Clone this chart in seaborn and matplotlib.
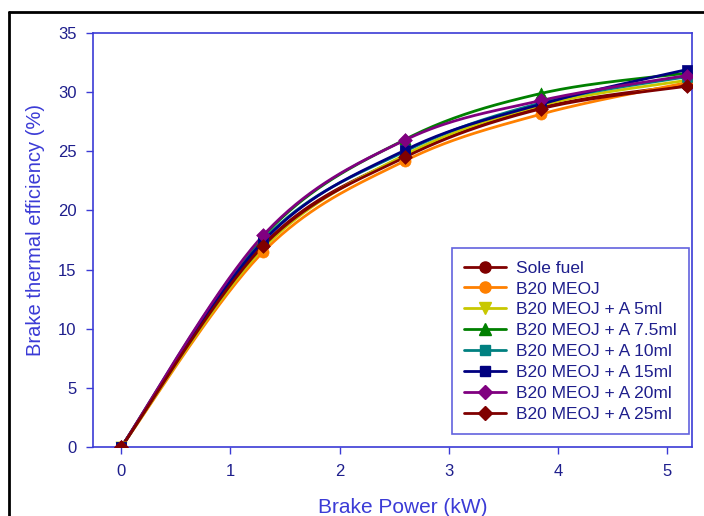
import numpy as np
import pandas as pd
import matplotlib
matplotlib.use("Agg")
import matplotlib.pyplot as plt
import seaborn as sns
from matplotlib.lines import Line2D

# Brake thermal efficiency (%) against brake power (kW)
brake_power = [0, 1.3, 2.6, 3.85, 5.18]
sole_fuel = [0, 17.1, 24.6, 28.7, 30.6]
b20_meoj = [0, 16.5, 24.2, 28.15, 30.8]
b20_a5 = [0, 16.8, 24.7, 28.9, 31.0]
b20_a7_5 = [0, 17.8, 26.0, 29.9, 31.6]
b20_a10 = [0, 17.5, 25.0, 29.1, 31.3]
b20_a15 = [0, 17.4, 25.1, 29.0, 31.9]
b20_a20 = [0, 17.9, 25.95, 29.3, 31.4]
b20_a25 = [0, 17.0, 24.5, 28.6, 30.5]

labels = ["Sole fuel", "B20 MEOJ", "B20 MEOJ + A 5ml", "B20 MEOJ + A 7.5ml",
          "B20 MEOJ + A 10ml", "B20 MEOJ + A 15ml", "B20 MEOJ + A 20ml",
          "B20 MEOJ + A 25ml"]
series = [sole_fuel, b20_meoj, b20_a5, b20_a7_5, b20_a10, b20_a15, b20_a20, b20_a25]
colors = ["#800000", "#FF8000", "#C8C800", "#008000", "#008080", "#000080",
          "#800080", "#800000"]
markers = ["o", "o", "v", "^", "s", "s", "D", "D"]
msizes = [8, 8, 8, 8, 7, 7, 7, 7]

TEXT = "#1E1E8C"
SPINE = "#3B3BD6"


def smooth_curve(xs, ys, n=40):
    """Catmull-Rom style Bezier smoothing through the given points."""
    p = np.column_stack([xs, ys]).astype(float)
    out = []
    for i in range(len(p) - 1):
        p0 = p[i - 1] if i > 0 else p[i]
        p1, p2 = p[i], p[i + 1]
        p3 = p[i + 2] if i + 2 < len(p) else p[i + 1]
        c1 = p1 + (p2 - p0) / 6.0
        c2 = p2 - (p3 - p1) / 6.0
        t = np.linspace(0, 1, n)[:, None]
        seg = ((1 - t) ** 3) * p1 + 3 * ((1 - t) ** 2) * t * c1 \
            + 3 * (1 - t) * t ** 2 * c2 + t ** 3 * p2
        out.append(seg if i == 0 else seg[1:])
    seg = np.vstack(out)
    return seg[:, 0], seg[:, 1]


sns.set_theme(style="white")
plt.rcParams["font.family"] = ["Liberation Sans", "DejaVu Sans"]

fig = plt.figure(figsize=(7.04, 5.16), dpi=100)
ax = fig.add_axes([93 / 704, 69 / 516, 599 / 704, 414 / 516])

for lab, vals, col, mk, ms in zip(labels, series, colors, markers, msizes):
    sx, sy = smooth_curve(brake_power, vals)
    curve = pd.DataFrame({"x": sx, "y": sy})
    sns.lineplot(data=curve, x="x", y="y", color=col, lw=2.0, sort=False,
                 estimator=None, ax=ax)
    pts = pd.DataFrame({"x": brake_power, "y": vals})
    sns.scatterplot(data=pts, x="x", y="y", color=col, marker=mk, s=ms ** 2,
                    edgecolor=col, linewidth=0.5, ax=ax, zorder=3)

ax.set_xlim(-0.26, 5.23)
ax.set_ylim(0, 35)
ax.set_xticks([0, 1, 2, 3, 4, 5])
ax.set_yticks(range(0, 36, 5))
ax.tick_params(axis="both", direction="out", length=5, width=1, color=SPINE,
               labelcolor=TEXT, labelsize=12, pad=7, left=True, bottom=True)
for s in ax.spines.values():
    s.set_color(SPINE)
    s.set_linewidth(1.2)

ax.set_xlabel("Brake Power (kW)", color=SPINE, fontsize=15)
ax.set_ylabel("Brake thermal efficiency (%)", color=SPINE, fontsize=14.5)
ax.xaxis.set_label_coords(0.517, -0.123)
ax.yaxis.set_label_coords(-0.08, 0.524)

handles = [Line2D([0], [0], color=c, lw=2.0, marker=m, markersize=ms,
                  markerfacecolor=c, markeredgecolor=c)
           for c, m, ms in zip(colors, markers, msizes)]
leg = ax.legend(handles, labels, loc="lower right",
                bbox_to_anchor=(596 / 599, 13 / 414), frameon=True,
                fancybox=False, fontsize=12.5, handlelength=2.4,
                labelspacing=0.33, borderpad=0.7, handletextpad=0.6,
                borderaxespad=0)
leg.get_frame().set_edgecolor(SPINE)
leg.get_frame().set_linewidth(1.2)
for t in leg.get_texts():
    t.set_color(TEXT)

# outer black frame along top and left
fig.add_artist(Line2D([9 / 704, 9 / 704], [0, 1 - 12 / 516], color="black",
                      lw=2, transform=fig.transFigure))
fig.add_artist(Line2D([9 / 704, 1], [1 - 12 / 516, 1 - 12 / 516],
                      color="black", lw=2, transform=fig.transFigure))

fig.savefig("out.png", dpi=100)
